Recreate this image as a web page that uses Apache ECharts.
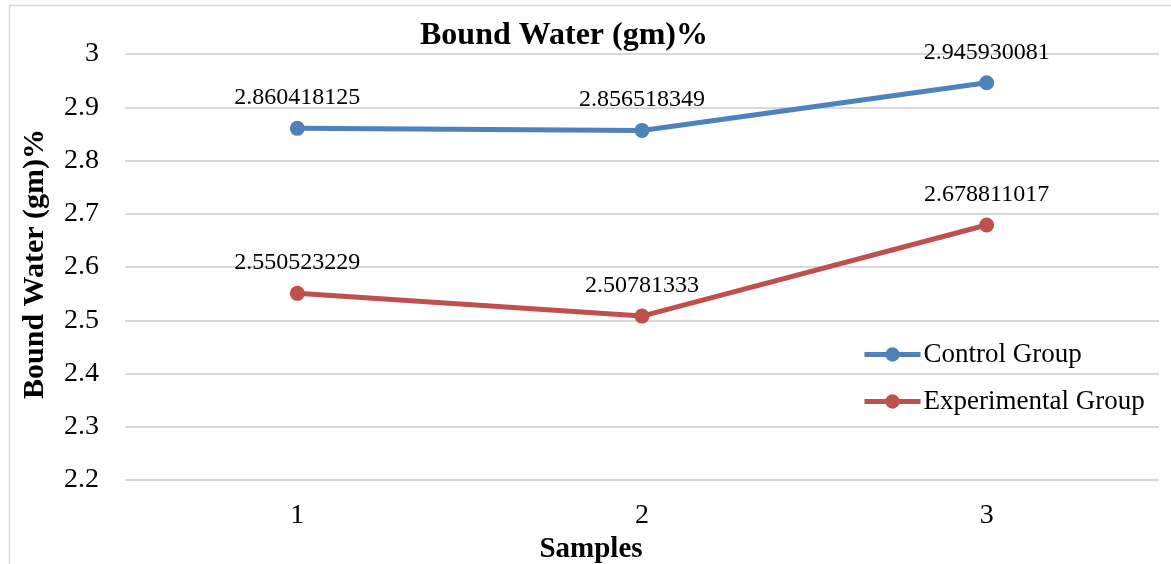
<!DOCTYPE html>
<html><head><meta charset="utf-8">
<script src="https://cdn.jsdelivr.net/npm/echarts@6/dist/echarts.min.js"></script>
<style>html,body{margin:0;padding:0;background:#fff}#c{width:1171px;height:564px}</style>
</head><body><div id="c"></div>
<script>
const categories = ['1', '2', '3'];
const controlGroup = [2.860418125, 2.856518349, 2.945930081];
const experimentalGroup = [2.550523229, 2.50781333, 2.678811017];
const yTicks = {min: 2.2, max: 3, interval: 0.1};
const F = '"Liberation Serif","Times New Roman",serif';
const chart = echarts.init(document.getElementById('c'));
function mkSeries(name, data, color) {
  return {
    name, type: 'line', data,
    symbol: 'circle', symbolSize: 15,
    lineStyle: {color, width: 5},
    itemStyle: {color},
    label: {show: true, position: 'top', distance: 11, color: '#000', fontFamily: F, fontSize: 24,
      formatter: p => String(p.value)}
  };
}
chart.setOption({
  animation: false,
  graphic: [{type: 'rect', shape: {x: 9.5, y: 5.5, width: 1200, height: 600}, style: {fill: 'none', stroke: '#d9d9d9', lineWidth: 1.5}, z: -1}],
  title: {text: 'Bound Water (gm)%', left: 559, top: 15, textAlign: 'center',
    textStyle: {fontFamily: F, fontSize: 32, fontWeight: 'bold', color: '#000'}},
  grid: {left: 125, right: 12, top: 54, bottom: 84, outerBoundsMode: 'none', containLabel: false},
  legend: {orient: 'vertical', left: 862, top: 341, padding: 0, itemWidth: 56, itemHeight: 18, itemGap: 20,
    lineStyle: {width: 5},
    textStyle: {fontFamily: F, fontSize: 27, color: '#000', padding: [0, 0, 0, -2]},
    data: ['Control Group', 'Experimental Group']},
  xAxis: {type: 'category', data: categories, boundaryGap: true,
    name: 'Samples', nameLocation: 'middle', nameGap: 55,
    nameTextStyle: {fontFamily: F, fontSize: 29, fontWeight: 'bold', color: '#000', padding: [0, 102, 0, 0]},
    axisLine: {show: false}, axisTick: {show: false},
    axisLabel: {fontFamily: F, fontSize: 28, color: '#000', margin: 22}},
  yAxis: {type: 'value', min: yTicks.min, max: yTicks.max, interval: yTicks.interval,
    name: 'Bound Water (gm)%', nameLocation: 'middle', nameGap: 75,
    nameTextStyle: {fontFamily: F, fontSize: 30, fontWeight: 'bold', color: '#000', padding: [0, 0, 0, 6]},
    axisLine: {show: false}, axisTick: {show: false},
    axisLabel: {fontFamily: F, fontSize: 28, color: '#000', margin: 26, formatter: v => String(Math.round(v * 10) / 10)},
    splitLine: {lineStyle: {color: '#d9d9d9', width: 2}}},
  series: [mkSeries('Control Group', controlGroup, '#4F81BD'),
           mkSeries('Experimental Group', experimentalGroup, '#C0504D')]
});
</script></body></html>
